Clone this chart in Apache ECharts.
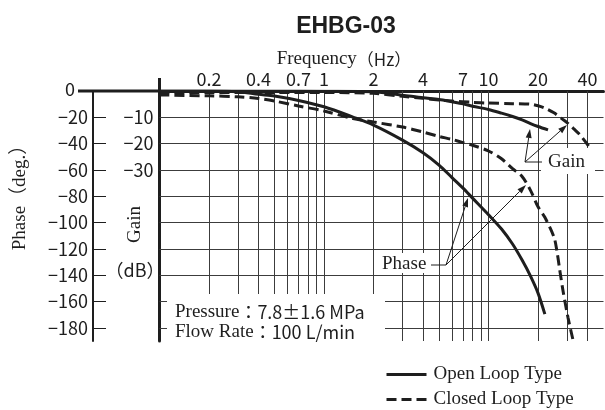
<!DOCTYPE html>
<html><head><meta charset="utf-8">
<script src="https://cdn.jsdelivr.net/npm/echarts@6/dist/echarts.min.js"></script>
<style>html,body{margin:0;padding:0;background:#fff}#c{width:605px;height:410px}</style>
</head><body><div id="c"></div>
<script>
// ---- data ----
const freqOpenGain  = [0.1, 0.5, 1, 2, 3, 4, 5, 6, 7, 8, 10, 12, 14, 16, 18, 20, 23];
const gainOpen      = [0, 0, -0.1, -0.3, -1.6, -2.6, -3.2, -4.1, -4.9, -5.8, -7.0, -8.4, -9.7, -11.0, -12.4, -13.5, -14.8];
const freqClosedGain = [0.1, 0.5, 1, 2, 3, 4, 5, 6, 8, 10, 14, 18, 20, 22, 25, 28, 30, 33, 36, 40.6];
const gainClosed     = [-0.6, -0.6, -0.6, -0.9, -2.0, -2.8, -3.4, -3.8, -4.3, -4.6, -4.8, -5.0, -5.6, -6.5, -8.3, -10.6, -12.0, -14.4, -16.7, -20.9];
const freqOpenPhase = [0.1, 0.2, 0.3, 0.4, 0.5, 0.7, 1, 1.5, 2, 3, 4, 5, 6, 7, 8, 10, 12, 14, 16, 18, 20, 22];
const phaseOpen     = [0, 0, -0.5, -2.5, -3.8, -7.2, -12, -19.8, -25.9, -37.3, -46.9, -56.3, -65.8, -73.8, -81.4, -94, -104.9, -116.3, -128.5, -140.7, -153.6, -169.6];
const freqClosedPhase = [0.1, 0.2, 0.3, 0.4, 0.5, 0.7, 1, 1.5, 2, 3, 4, 5, 6, 7, 8, 10, 12, 14, 16, 18, 20, 22, 25, 26, 27.1, 28.3, 30.4, 32.6];
const phaseClosed     = [-3, -3.7, -4.4, -5.7, -7.6, -11.4, -15.2, -21, -23.6, -27.4, -31.2, -34.5, -36.8, -39.2, -41.2, -45.6, -51.5, -59, -65, -75.5, -88, -96, -111, -121, -136, -151, -172, -189];

const gridFreqs = [0.2, 0.3, 0.4, 0.5, 0.6, 0.7, 0.8, 0.9, 1, 2, 3, 4, 5, 6, 7, 8, 9, 10, 20, 30, 40];
const freqTickLabels = [0.2, 0.4, 0.7, 1, 2, 4, 7, 10, 20, 40];
const phaseTicks = [0, -20, -40, -60, -80, -100, -120, -140, -160, -180];
const gainTickLabels = [-10, -20, -30];

const SERIF = "'Liberation Serif','Noto Sans CJK JP',serif";
const CJK = "'Noto Sans CJK JP','Liberation Sans',sans-serif";
const SANS = "'Liberation Sans','Noto Sans CJK JP',sans-serif";
const INK = '#1e1e1e';
const GRIDC = '#3c3c3c';

const zip = (xs, ys) => xs.map((x, i) => [x, ys[i]]);
const minus = v => v === 0 ? '0' : '\u2212' + Math.abs(v);

const chart = echarts.init(document.getElementById('c'), null, { renderer: 'canvas' });

function arrow(x1, y1, x2, y2) {
  const a = Math.atan2(y2 - y1, x2 - x1);
  const L = 9, W = 3;
  const bx = x2 - L * Math.cos(a), by = y2 - L * Math.sin(a);
  const px = -Math.sin(a) * W, py = Math.cos(a) * W;
  return [
    { type: 'line', z: 100, shape: { x1: x1, y1: y1, x2: bx, y2: by }, style: { stroke: INK, lineWidth: 1 } },
    { type: 'polygon', z: 100, shape: { points: [[x2, y2], [bx + px, by + py], [bx - px, by - py]] }, style: { fill: INK } }
  ];
}
function txt(text, x, y, opts) {
  return Object.assign({ type: 'text', z: 101, x: x, y: y,
    style: Object.assign({ text: text, fill: INK, textAlign: 'left', textVerticalAlign: 'middle', align: 'left', verticalAlign: 'middle' }, opts || {}) });
}

const gridMarks = gridFreqs.map(f => {
  const lab = freqTickLabels.indexOf(f) >= 0;
  return { xAxis: f, label: lab ? { show: true, position: 'end', formatter: String(f), distance: 3,
    fontFamily: CJK, fontSize: 18, color: INK } : { show: false } };
}).concat(phaseTicks.slice(1).map(v => ({ yAxis: v })));

const legendBase = {
  orient: 'vertical', left: 385, padding: 0, itemWidth: 40, itemHeight: 12, itemGap: 0,
  itemStyle: { opacity: 0 },
  lineStyle: { width: 3 },
  textStyle: { fontFamily: SERIF, fontSize: 19, color: INK, padding: [0, 0, 0, 2] }
};

const option = {
  animation: false,
  backgroundColor: '#fff',
  title: [
    { text: 'EHBG-03', left: 341, top: 10, textAlign: 'center',
      textStyle: { fontFamily: SANS, fontWeight: 'bold', fontSize: 23, color: INK } },
    { text: '{a|Frequency}{b|（Hz）}', left: 339, top: 45, textAlign: 'center',
      textStyle: { fontWeight: 'normal', rich: {
        a: { fontFamily: SERIF, fontSize: 19, fontWeight: 'normal', color: INK },
        b: { fontFamily: CJK, fontSize: 17, fontWeight: 'normal', color: INK } } } }
  ],
  legend: [
    Object.assign({}, legendBase, { top: 365, data: ['Open Loop Type'] }),
    Object.assign({}, legendBase, { top: 390, data: ['Closed Loop Type'] })
  ],
  grid: { left: 159.5, right: 1.5, top: 91, bottom: 69, containLabel: false },
  xAxis: {
    type: 'log', logBase: 10, min: 0.1, max: 50, position: 'top',
    axisLine: { show: true, onZero: false, lineStyle: { color: INK, width: 3 } },
    axisTick: { show: false }, axisLabel: { show: false },
    splitLine: { show: false }, minorSplitLine: { show: false }
  },
  yAxis: [
    { type: 'value', min: -190, max: 0, position: 'left', offset: 66.5,
      name: 'Phase（deg.）', nameLocation: 'middle', nameRotate: 90, nameGap: 63,
      nameTextStyle: { fontFamily: SERIF, fontSize: 19, color: INK, padding: [0, 0, 0, 46] },
      axisLine: { show: true, onZero: false, lineStyle: { color: INK, width: 2 } },
      axisTick: { show: true, inside: true, length: 13, customValues: phaseTicks.slice(1), lineStyle: { color: INK, width: 1 } },
      axisLabel: { customValues: phaseTicks, margin: 5, fontFamily: CJK, fontSize: 18, color: INK,
        formatter: v => v === 0 ? '{z|0}' : minus(v),
        rich: { z: { padding: [0, 13, 4, 0], fontFamily: CJK, fontSize: 18, color: INK } } },
      splitLine: { show: false } },
    { type: 'value', min: -95, max: 0, position: 'left', offset: 0,
      axisLine: { show: true, onZero: false, lineStyle: { color: INK, width: 3 } },
      axisTick: { show: false },
      axisLabel: { customValues: gainTickLabels, margin: 6, fontFamily: CJK, fontSize: 18, color: INK, formatter: v => minus(v) },
      splitLine: { show: false } }
  ],
  series: [
    { name: '_grid', type: 'line', yAxisIndex: 0, data: [], silent: true, z: 1,
      markLine: { silent: true, symbol: ['none', 'none'], animation: false, label: { show: false },
        lineStyle: { color: GRIDC, width: 1, type: 'solid' }, emphasis: { disabled: true }, data: gridMarks } },
    { name: 'Open Loop Type', type: 'line', yAxisIndex: 1, data: zip(freqOpenGain, gainOpen), smooth: 0.3, symbol: 'none',
      lineStyle: { color: INK, width: 3 }, itemStyle: { color: INK }, z: 5 },
    { name: 'Open Loop Type', type: 'line', yAxisIndex: 0, data: zip(freqOpenPhase, phaseOpen), smooth: 0.3, symbol: 'none',
      lineStyle: { color: INK, width: 3 }, itemStyle: { color: INK }, z: 5 },
    { name: 'Closed Loop Type', type: 'line', yAxisIndex: 1, data: zip(freqClosedGain, gainClosed), smooth: 0.3, symbol: 'none',
      lineStyle: { color: INK, width: 3, type: [10, 5] }, itemStyle: { color: INK }, z: 5 },
    { name: 'Closed Loop Type', type: 'line', yAxisIndex: 0, data: zip(freqClosedPhase, phaseClosed), smooth: 0.3, symbol: 'none',
      lineStyle: { color: INK, width: 3, type: [10, 5] }, itemStyle: { color: INK }, z: 5 }
  ]
};
chart.setOption(option);

const top0 = chart.convertToPixel({ yAxisIndex: 0 }, 0);
const xLeft = chart.convertToPixel({ xAxisIndex: 0 }, 0.1);

const g = [];
g.push({ type: 'line', z: 50, shape: { x1: 78, y1: top0, x2: xLeft, y2: top0 }, style: { stroke: INK, lineWidth: 3 } });
g.push({ type: 'line', z: 50, shape: { x1: xLeft, y1: top0 - 13, x2: xLeft, y2: top0 }, style: { stroke: INK, lineWidth: 3 } });
// Gain annotation
g.push({ type: 'rect', z: 90, shape: { x: 541, y: 148, width: 54, height: 26 }, style: { fill: '#fff' } });
g.push(txt('Gain', 548, 162, { font: "19px 'Liberation Serif'" }));
g.push({ type: 'line', z: 100, shape: { x1: 525, y1: 162, x2: 542, y2: 162 }, style: { stroke: INK, lineWidth: 1 } });
g.push(...arrow(525, 162, 530, 129), ...arrow(525, 162, 567, 125));
// Phase annotation
g.push({ type: 'rect', z: 90, shape: { x: 380, y: 253, width: 52, height: 20 }, style: { fill: '#fff' } });
g.push(txt('Phase', 382, 264, { font: "19px 'Liberation Serif'" }));
g.push({ type: 'line', z: 100, shape: { x1: 431, y1: 265, x2: 446, y2: 265 }, style: { stroke: INK, lineWidth: 1 } });
g.push(...arrow(446, 265, 468, 198), ...arrow(446, 265, 526, 185));
// Conditions box
g.push({ type: 'rect', z: 90, shape: { x: 167, y: 294, width: 218, height: 50 }, style: { fill: '#fff' } });
g.push(txt('{s|Pressure}{c|：7.8±1.6 MPa}', 175, 312, { rich: {
  s: { fontFamily: 'Liberation Serif', fontSize: 19, fill: INK, color: INK },
  c: { fontFamily: 'Noto Sans CJK JP', fontSize: 18, fill: INK, color: INK } } }));
g.push(txt('{s|Flow Rate}{c|：100 L/min}', 175, 332, { rich: {
  s: { fontFamily: 'Liberation Serif', fontSize: 19, fill: INK, color: INK },
  c: { fontFamily: 'Noto Sans CJK JP', fontSize: 18, fill: INK, color: INK } } }));
// Gain axis title
g.push(Object.assign(txt('Gain', 135, 224.5, { font: "19px 'Liberation Serif'", textAlign: 'center', align: 'center' }), { rotation: Math.PI / 2 }));
g.push(txt('（dB）', 135, 270, { font: "18px 'Noto Sans CJK JP'", textAlign: 'center', align: 'center' }));

chart.setOption({ graphic: g });
</script>
</body></html>
